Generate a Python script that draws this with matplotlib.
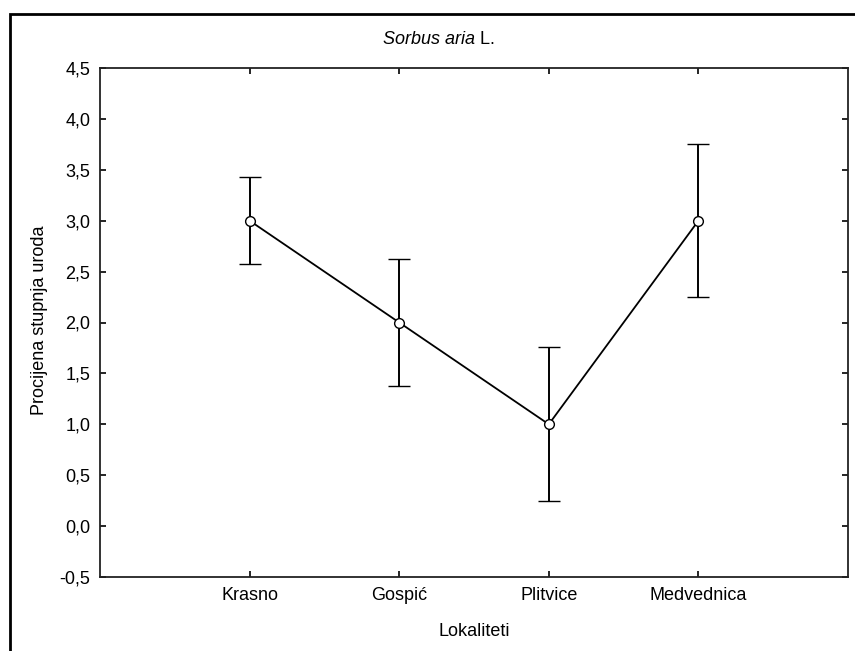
import matplotlib
matplotlib.use("Agg")
import matplotlib.pyplot as plt
from matplotlib.patches import Rectangle
from matplotlib.ticker import FuncFormatter

# data
lokaliteti = ["Krasno", "Gospić", "Plitvice", "Medvednica"]
srednja = [3.0, 2.0, 1.0, 3.0]
gornja = [3.43, 2.62, 1.76, 3.75]
donja = [2.57, 1.38, 0.25, 2.25]
y_ticks = [-0.5, 0.0, 0.5, 1.0, 1.5, 2.0, 2.5, 3.0, 3.5, 4.0, 4.5]

plt.rcParams["font.family"] = ["Liberation Sans", "DejaVu Sans"]
plt.rcParams["axes.unicode_minus"] = False
fs = 13

fig = plt.figure(figsize=(8.55, 6.51), dpi=100)
ax = fig.add_axes([100 / 855, 1 - 577 / 651, 748 / 855, 509 / 651])

x = list(range(len(lokaliteti)))
err_low = [m - d for m, d in zip(srednja, donja)]
err_high = [g - m for m, g in zip(srednja, gornja)]

ax.errorbar(x, srednja, yerr=[err_low, err_high], color="black", lw=1.3,
            elinewidth=1.4, capsize=8, capthick=1.4, marker="o", ms=7,
            mfc="white", mec="black", mew=1.0, zorder=3)

ax.set_xlim(-1, 4)
ax.set_ylim(-0.5, 4.5)
ax.set_xticks(x)
ax.set_xticklabels(lokaliteti)
ax.set_yticks(y_ticks)
ax.yaxis.set_major_formatter(FuncFormatter(lambda v, p: f"{v:.1f}".replace(".", ",")))

ax.tick_params(direction="in", length=4, width=1.2, labelsize=fs, colors="black",
               top=True, right=True, pad=7)
for s in ax.spines.values():
    s.set_linewidth(1.3)
    s.set_color("#222222")

# title: italic species name + plain author, centred as a whole
ty = 1 - 40 / 651
t1 = fig.text(0, ty, "Sorbus aria", fontsize=fs, style="italic", ha="left", va="center")
t2 = fig.text(0, ty, " L.", fontsize=fs, ha="left", va="center")
r = fig.canvas.get_renderer()
w1 = t1.get_window_extent(r).width
w2 = t2.get_window_extent(r).width
x0 = 439 - (w1 + w2) / 2
t1.set_x(x0 / 855)
t2.set_x((x0 + w1) / 855)

fig.text(40 / 855, 1 - 320 / 651, "Procijena stupnja uroda", fontsize=fs,
         rotation=90, ha="center", va="center")
fig.text(474 / 855, 1 - 632 / 651, "Lokaliteti", fontsize=fs,
         ha="center", va="center")

# outer frame (right and bottom fall outside the image)
fig.patches.append(Rectangle((10 / 855, -0.05), 1.1, 1 - 14 / 651 + 0.05,
                             transform=fig.transFigure, fill=False,
                             lw=2, ec="black"))

fig.savefig("out.png", dpi=100)
